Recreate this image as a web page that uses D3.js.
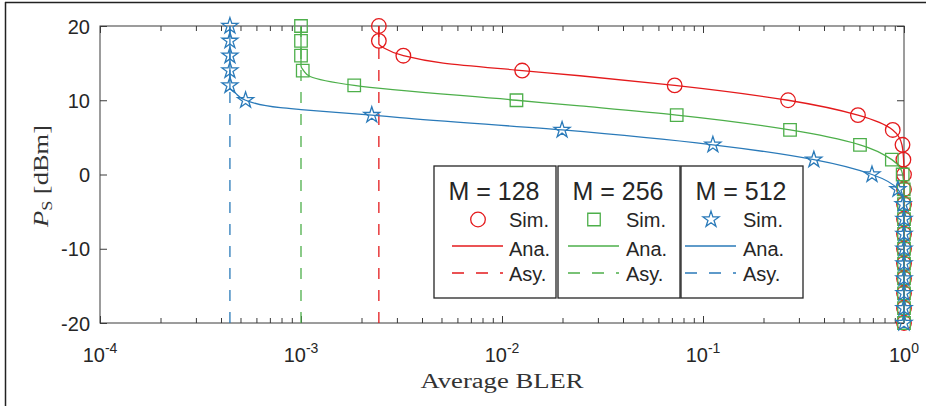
<!DOCTYPE html>
<html>
<head>
<meta charset="utf-8">
<script src="https://cdn.jsdelivr.net/npm/d3@7"></script>
<style>
  body { margin: 0; background: #fff; }
  svg { display: block; }
</style>
</head>
<body>
<svg id="chart" width="926" height="406"></svg>
<script>
// simulated points, one per 2 dB step of P_S
const psSim = [20, 18, 16, 14, 12, 10, 8, 6, 4, 2, 0, -2, -4, -6, -8, -10, -12, -14, -16, -18, -20];
const blerSim128 = [2.44e-3, 2.44e-3, 3.23e-3, 0.0126, 0.0723, 0.265, 0.59, 0.879, 0.983, 0.993, 1, 1, 1, 1, 1, 1, 1, 1, 1, 1, 1];
const blerSim256 = [1.0e-3, 1.0e-3, 1.0e-3, 1.02e-3, 1.84e-3, 0.0118, 0.074, 0.271, 0.604, 0.87, 0.985, 0.997, 1, 1, 1, 1, 1, 1, 1, 1, 1];
const blerSim512 = [4.43e-4, 4.43e-4, 4.43e-4, 4.43e-4, 4.43e-4, 5.3e-4, 2.25e-3, 0.0199, 0.112, 0.356, 0.693, 0.933, 0.99, 1, 1, 1, 1, 1, 1, 1, 1];

// analytical curves
const psAna128 = [20, 17.6, 17.0, 16, 15, 14, 13.3, 12, 10, 8, 6, 4, 2, 0, -20];
const blerAna128 = [2.44e-3, 2.44e-3, 2.6e-3, 3.23e-3, 5.1e-3, 0.0126, 0.0244, 0.0723, 0.265, 0.59, 0.879, 0.977, 0.995, 1, 1];
const psAna256 = [20, 14.6, 14.0, 13.2, 12, 10, 9.23, 8, 6, 4, 2, 0, -2, -20];
const blerAna256 = [1.0e-3, 1.0e-3, 1.03e-3, 1.11e-3, 1.84e-3, 0.0118, 0.0244, 0.074, 0.271, 0.604, 0.87, 0.985, 0.999, 1];
const psAna512 = [20, 11.6, 11.0, 10, 9.0, 8.75, 8, 7.65, 6, 4, 2, 0, -2, -4, -20];
const blerAna512 = [4.43e-4, 4.43e-4, 4.7e-4, 5.3e-4, 7.9e-4, 1.0e-3, 2.25e-3, 3.1e-3, 0.0199, 0.112, 0.356, 0.693, 0.933, 0.995, 1];

// asymptotes
const asy128 = 2.44e-3;
const asy256 = 1.0e-3;
const asy512 = 4.43e-4;

const xTicks = [1e-4, 1e-3, 1e-2, 1e-1, 1];
const xTickExp = ['-4', '-3', '-2', '-1', '0'];
const yTicks = [-20, -10, 0, 10, 20];
const legendTitles = ['M = 128', 'M = 256', 'M = 512'];
const legendLabels = ['Sim.', 'Ana.', 'Asy.'];
const colors = ['#e41a1c', '#4daf4a', '#2a7ab9'];
const markers = ['circle', 'square', 'star'];

const svg = d3.select('#chart');
const x = d3.scaleLog().domain([1e-4, 1]).range([100, 904]);
const y = d3.scaleLinear().domain([-20, 20]).range([323, 26]);
const axisColor = '#3a3a3a';
const textColor = '#262626';

// outer frame edges
svg.append('line').attr('x1', 5.5).attr('x2', 5.5).attr('y1', 2).attr('y2', 406)
  .attr('stroke', '#222').attr('stroke-width', 1.5);
svg.append('line').attr('x1', 5).attr('x2', 926).attr('y1', 2.5).attr('y2', 2.5)
  .attr('stroke', '#222').attr('stroke-width', 1.5);

let minorTicks = [];
[1e-4, 1e-3, 1e-2, 1e-1].forEach(d => {
  for (let k = 2; k <= 9; k++) minorTicks.push(d * k);
});

function styleAxis(g) {
  g.select('.domain').remove();
  g.selectAll('line').attr('stroke', axisColor);
}

svg.append('g').attr('transform', 'translate(0,323)')
  .call(d3.axisBottom(x).tickValues(xTicks).tickSize(-7).tickFormat('')).call(styleAxis);
svg.append('g').attr('transform', 'translate(0,323)')
  .call(d3.axisBottom(x).tickValues(minorTicks).tickSize(-5).tickFormat('')).call(styleAxis);
svg.append('g').attr('transform', 'translate(0,26)')
  .call(d3.axisTop(x).tickValues(xTicks).tickSize(-7).tickFormat('')).call(styleAxis);
svg.append('g').attr('transform', 'translate(0,26)')
  .call(d3.axisTop(x).tickValues(minorTicks).tickSize(-5).tickFormat('')).call(styleAxis);
svg.append('g').attr('transform', 'translate(904,0)')
  .call(d3.axisRight(y).tickValues(yTicks).tickSize(-7).tickFormat('')).call(styleAxis);

let yAxis = svg.append('g').attr('transform', 'translate(100,0)')
  .call(d3.axisLeft(y).tickValues(yTicks).tickSize(-7).tickPadding(10).tickFormat(d => String(d)))
  .call(styleAxis);
yAxis.selectAll('text')
  .attr('font-family', '"Liberation Sans", Arial, sans-serif')
  .attr('font-size', 20).attr('fill', textColor)
  .attr('dy', '0.36em');

svg.append('rect').attr('x', 100).attr('y', 26).attr('width', 804).attr('height', 297)
  .attr('fill', 'none').attr('stroke', axisColor).attr('stroke-width', 1);

// x tick labels with superscript exponents
xTicks.forEach((v, i) => {
  let t = svg.append('text')
    .attr('x', x(v)).attr('y', 361.5)
    .attr('text-anchor', 'middle')
    .attr('font-family', '"Liberation Sans", Arial, sans-serif')
    .attr('fill', textColor);
  t.append('tspan').attr('font-size', 20).text('10');
  t.append('tspan').attr('font-size', 14).attr('dy', -8.5).text(xTickExp[i]);
});

svg.append('text')
  .attr('x', 502).attr('y', 388)
  .attr('text-anchor', 'middle')
  .attr('font-family', '"Liberation Serif", "Times New Roman", serif')
  .attr('font-size', 20).attr('fill', '#333')
  .attr('textLength', 163).attr('lengthAdjust', 'spacingAndGlyphs')
  .text('Average BLER');

let yLabel = svg.append('text')
  .attr('transform', 'translate(48,176) rotate(-90)')
  .attr('text-anchor', 'middle')
  .attr('font-family', '"Liberation Serif", "Times New Roman", serif')
  .attr('font-size', 22).attr('fill', '#333')
  .attr('textLength', 102).attr('lengthAdjust', 'spacingAndGlyphs');
yLabel.append('tspan').attr('font-style', 'italic').text('P');
yLabel.append('tspan').attr('font-size', 15).attr('dy', 4).text('S');
yLabel.append('tspan').attr('dy', -4).text('\u00a0[dBm]');

function markerPath(kind) {
  if (kind === 'circle') return d3.symbol(d3.symbolCircle, Math.PI * 7.3 * 7.3)();
  if (kind === 'square') return d3.symbol(d3.symbolSquare, 12.5 * 12.5)();
  return d3.symbol(d3.symbolStar, 8.4 * 8.4 / 0.8908130915292852)();
}

const line = d3.line()
  .x(d => x(d[0]))
  .y(d => y(d[1]))
  .curve(d3.curveMonotoneY);

const series = [
  {sim: blerSim128, psAna: psAna128, ana: blerAna128, asy: asy128},
  {sim: blerSim256, psAna: psAna256, ana: blerAna256, asy: asy256},
  {sim: blerSim512, psAna: psAna512, ana: blerAna512, asy: asy512}
];

series.forEach((s, i) => {
  let c = colors[i];
  let g = svg.append('g');

  g.append('line')
    .attr('x1', x(s.asy)).attr('x2', x(s.asy))
    .attr('y1', y(20)).attr('y2', y(-20))
    .attr('stroke', c).attr('stroke-width', 1.3)
    .attr('stroke-dasharray', '11,11');

  let pts = s.psAna.map((p, k) => [s.ana[k], p]).sort((a, b) => a[1] - b[1]);
  g.append('path').datum(pts)
    .attr('d', line)
    .attr('fill', 'none').attr('stroke', c).attr('stroke-width', 1.3);

  g.selectAll('path.mk')
    .data(psSim.map((p, k) => [s.sim[k], p]))
    .enter().append('path')
    .attr('class', 'mk')
    .attr('d', markerPath(markers[i]))
    .attr('transform', d => 'translate(' + x(d[0]) + ',' + y(d[1]) + ')')
    .attr('fill', 'none').attr('stroke', c).attr('stroke-width', 1.3);
});

// three separate legend boxes
const boxX = [434, 558, 681];
const boxShift = [0, -8, -14];

legendTitles.forEach((title, i) => {
  let c = colors[i];
  let sh = boxShift[i];
  let lg = svg.append('g').attr('transform', 'translate(' + boxX[i] + ',166)');
  lg.append('rect').attr('x', 0).attr('y', 0).attr('width', 122).attr('height', 132)
    .attr('fill', '#fff').attr('stroke', '#262626').attr('stroke-width', 1.3);
  lg.append('text')
    .attr('x', 60).attr('y', 34)
    .attr('text-anchor', 'middle')
    .attr('font-family', '"Liberation Sans", Arial, sans-serif')
    .attr('font-size', 25).attr('fill', textColor)
    .text(title);

  lg.append('path')
    .attr('d', markerPath(markers[i]))
    .attr('transform', 'translate(' + (44 + sh) + ',53.5)')
    .attr('fill', 'none').attr('stroke', c).attr('stroke-width', 1.3);
  lg.append('line')
    .attr('x1', 18 + sh).attr('x2', 69 + sh).attr('y1', 80).attr('y2', 80)
    .attr('stroke', c).attr('stroke-width', 1.3);
  lg.append('line')
    .attr('x1', 18 + sh).attr('x2', 69 + sh).attr('y1', 107).attr('y2', 107)
    .attr('stroke', c).attr('stroke-width', 1.3)
    .attr('stroke-dasharray', '12,12');

  [60.5, 89.5, 114.7].forEach((ty, k) => {
    lg.append('text')
      .attr('x', 75 + sh + (i > 0 ? 1 : 0)).attr('y', ty)
      .attr('font-family', '"Liberation Sans", Arial, sans-serif')
      .attr('font-size', 20).attr('fill', textColor)
      .text(legendLabels[k]);
  });
});
</script>
</body>
</html>
